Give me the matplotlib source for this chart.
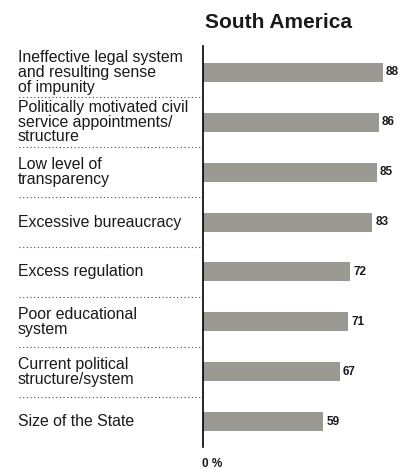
import matplotlib.pyplot as plt

plt.rcParams["font.family"] = ["Liberation Sans", "DejaVu Sans"]

title = "South America"
labels = [
    "Ineffective legal system\nand resulting sense\nof impunity",
    "Politically motivated civil\nservice appointments/\nstructure",
    "Low level of\ntransparency",
    "Excessive bureaucracy",
    "Excess regulation",
    "Poor educational\nsystem",
    "Current political\nstructure/system",
    "Size of the State",
]
values = [88, 86, 85, 83, 72, 71, 67, 59]

bar_color = "#9b9a92"
text_color = "#1a1a1a"

W, H = 402, 469
fig = plt.figure(figsize=(W / 100, H / 100), dpi=100)
# axes frame in pixels: left edge at the zero line
ax = fig.add_axes([203 / W, 1 - 447 / H, 196 / W, 401 / H])

ypos = list(range(len(values)))
ax.barh(ypos, values, height=0.38, color=bar_color, zorder=2)
ax.set_xlim(0, 96)
ax.set_ylim(len(values) - 0.49, -0.53)

for side in ["top", "right", "bottom"]:
    ax.spines[side].set_visible(False)
ax.spines["left"].set_color("black")
ax.spines["left"].set_linewidth(1.2)
ax.set_xticks([])
ax.set_yticks([])

# category names and dotted separators on the left
ytr = ax.get_yaxis_transform()
for y, lab in zip(ypos, labels):
    ax.text(-0.944, y, lab, transform=ytr, ha="left", va="center",
            fontsize=11.4, linespacing=0.97, color=text_color, clip_on=False)
for y in ypos[:-1]:
    ax.plot([-0.94, -0.005], [y + 0.5, y + 0.5], transform=ytr,
            color="#444444", lw=0.8, linestyle=(0, (1, 2.3)), clip_on=False)

# value labels
for y, v in zip(ypos, values):
    ax.annotate(str(v), (v, y), xytext=(2.2, 0), textcoords="offset points",
                ha="left", va="center", fontsize=8.5, fontweight="bold",
                color=text_color, annotation_clip=False)

fig.text(279 / W, 1 - 22 / H, title, ha="center", va="center",
         fontsize=15, fontweight="bold", color=text_color)
fig.text(202 / W, 1 - 464 / H, "0 %", ha="left", va="center",
         fontsize=8.5, fontweight="bold", color=text_color)

fig.savefig("out.png", dpi=100)
